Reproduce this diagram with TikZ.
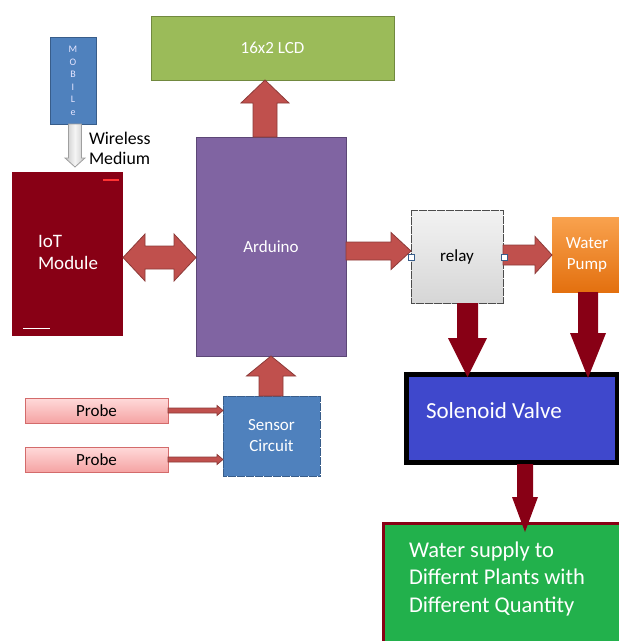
\documentclass[tikz,border=0pt]{standalone}
\usepackage{fontspec}
\setmainfont{Carlito}
\usetikzlibrary{calc}
\definecolor{lcdgreen}{HTML}{9BBB59}
\definecolor{lcdline}{HTML}{71893F}
\definecolor{ardpurple}{HTML}{8064A2}
\definecolor{ardline}{HTML}{5C4776}
\definecolor{mobblue}{HTML}{4F81BD}
\definecolor{mobline}{HTML}{385D8A}
\definecolor{iotred}{HTML}{880015}
\definecolor{arrred}{HTML}{C0504D}
\definecolor{arrline}{HTML}{8C3A38}
\definecolor{solblue}{HTML}{3F48CC}
\definecolor{plantgreen}{HTML}{22B14C}
\definecolor{pumptop}{HTML}{F9A24E}
\definecolor{pumpbot}{HTML}{E3700F}
\definecolor{probetop}{HTML}{FFDADA}
\definecolor{probebot}{HTML}{F5A3A3}
\definecolor{probeline}{HTML}{D36B6B}
\newcommand\fsA{\fontsize{17}{21}\selectfont}
\newcommand\fsWL{\fontsize{17.8}{21}\selectfont}
\newcommand\fsIoT{\fontsize{19}{22}\selectfont}
\newcommand\fsSol{\fontsize{23}{27}\selectfont}
\newcommand\fsW{\fontsize{22.5}{27.5}\selectfont}
\newcommand\fsMob{\fontsize{10}{12.5}\selectfont}
% block arrow: #1 from, #2 to, #3 shaft half width, #4 head half width, #5 head length, #6 style
\newcommand\blkarrow[6]{%
  \coordinate (bA) at ($(#2)!#5pt!(#1)$);
  \draw[#6] ($(#1)!#3pt!90:(#2)$) -- ($(bA)!#3pt!90:(#2)$) -- ($(bA)!#4pt!90:(#2)$)
    -- (#2) -- ($(bA)!#4pt!-90:(#2)$) -- ($(bA)!#3pt!-90:(#2)$) -- ($(#1)!#3pt!-90:(#2)$) -- cycle;
}
\newcommand\dblarrow[6]{%
  \coordinate (bA) at ($(#1)!#5pt!(#2)$);
  \coordinate (bB) at ($(#2)!#5pt!(#1)$);
  \draw[#6] (#1) -- ($(bA)!#4pt!90:(#2)$) -- ($(bA)!#3pt!90:(#2)$) -- ($(bB)!#3pt!90:(#2)$)
    -- ($(bB)!#4pt!90:(#2)$) -- (#2) -- ($(bB)!#4pt!-90:(#2)$) -- ($(bB)!#3pt!-90:(#2)$)
    -- ($(bA)!#3pt!-90:(#2)$) -- ($(bA)!#4pt!-90:(#2)$) -- cycle;
}
\begin{document}
\begin{tikzpicture}[x=1pt,y=-1pt,
  box/.style={rectangle, inner sep=0pt, outer sep=0pt, text=white, font=\fsA, align=center},
  redarrow/.style={fill=arrred, draw=arrline, line width=0.8pt, line join=miter},
  darkarrow/.style={fill=iotred, draw=none},
  grayarrow/.style={left color=gray!45, right color=gray!45, middle color=gray!8, draw=gray!75, line width=0.8pt},
  lbl/.style={inner sep=0pt, outer sep=0pt, anchor=base west}]
\useasboundingbox (0,0) rectangle (619,641);

% boxes
\node[box, fill=lcdgreen, draw=lcdline, minimum width=243pt, minimum height=64pt] (lcd) at (272.5,48) {16x2 LCD};
\node[box, fill=ardpurple, draw=ardline, line width=0.8pt, minimum width=150pt, minimum height=219pt] (ard) at (271,246.5) {Arduino};
\node[box, fill=mobblue, draw=mobline, minimum width=46pt, minimum height=87pt, font=\fsMob, text=white!90!blue] (mob) at (73,81) {M\\O\\B\\I\\L\\e};
\node[box, fill=iotred, minimum width=111pt, minimum height=164pt] (iot) at (67.5,254) {};
\node[lbl, text=white, font=\fsIoT] (iott1) at (38,247) {IoT};
\node[lbl, text=white, font=\fsIoT] (iott2) at (38,269) {Module};
\node[lbl, text=black, font=\fsWL] (wl1) at (89,144) {Wireless};
\node[lbl, text=black, font=\fsWL] (wl2) at (89,164.5) {Medium};
\node[box, top color=gray!10, bottom color=gray!32, draw=black!70, dash pattern=on 4pt off 0.5pt, text=black, minimum width=92pt, minimum height=93pt] (relay) at (457,256.5) {relay};
\node[box, top color=pumptop, bottom color=pumpbot, minimum width=70pt, minimum height=75pt] (pump) at (587,254.5) {Water\\Pump};
\node[box, fill=solblue, draw=black, line width=5pt, minimum width=211pt, minimum height=88pt] (sol) at (512,418.5) {};
\node[lbl, text=white, font=\fsSol] (soltxt) at (426,418) {Solenoid Valve};
\node[box, fill=plantgreen, draw=iotred, line width=3pt, minimum width=240pt, minimum height=126.5pt] (water) at (503.5,586.75) {};
\node[lbl, text=white, font=\fsW] (wt1) at (409,557) {Water supply to};
\node[lbl, text=white, font=\fsW] (wt2) at (409,584.5) {Differnt Plants with};
\node[lbl, text=white, font=\fsW] (wt3) at (409,612) {Different Quantity};
\node[box, top color=probetop, bottom color=probebot, draw=probeline, text=black, minimum width=143pt, minimum height=25pt] (p1) at (96.5,410.5) {Probe};
\node[box, top color=probetop, bottom color=probebot, draw=probeline, text=black, minimum width=143pt, minimum height=25pt] (p2) at (96.5,459.5) {Probe};
\node[box, fill=mobblue, draw=mobline, dash pattern=on 4pt off 0.5pt, minimum width=97pt, minimum height=80pt] (sens) at (271.5,436) {Sensor\\Circuit};

% small marks on IoT module
\draw[red!80!white, line width=1.5pt] ($(iot.north east)+(-20,8)$) coordinate (im1) -- ($(iot.north east)+(-4,8)$) coordinate (im2);
\draw[white, line width=1pt] ($(iot.south west)+(11,-8)$) coordinate (im3) -- ($(iot.south west)+(38,-8)$) coordinate (im4);

% connector end points
\coordinate (a1s) at ($(ard.north)+(-6,0)$);
\coordinate (a1e) at ($(lcd.south)+(-7.5,0)$);
\coordinate (d1) at ($(iot.east)+(0,3.5)$);
\coordinate (d2) at ($(ard.west)+(0,11)$);
\coordinate (a3s) at ($(ard.east)+(0,4.5)$);
\coordinate (a3e) at ($(relay.west)+(0,-5.5)$);
\coordinate (a4s) at ($(relay.east)+(0,-1.5)$);
\coordinate (a4e) at ($(pump.west)+(0,0.5)$);
\coordinate (a5s) at ($(relay.south)+(10.5,0)$);
\coordinate (a5e) at ($(sol.north)+(-44.5,2.5)$);
\coordinate (a6s) at ($(pump.south)+(1,0)$);
\coordinate (a6e) at ($(sol.north)+(76,3.5)$);
\coordinate (a7s) at ($(sol.south)+(13,1.5)$);
\coordinate (a7e) at ($(water.north)+(21.5,8.5)$);
\coordinate (a8s) at ($(sens.north)+(-0.5,0)$);
\coordinate (a8e) at (ard.south);
\coordinate (a9e) at ($(sens.west)+(0,-25.5)$);
\coordinate (a10e) at ($(sens.west)+(0,23.5)$);
\coordinate (a11s) at ($(mob.south)+(2,-0.5)$);
\coordinate (a11e) at ($(iot.north)+(7.5,-5)$);

% arrows
\blkarrow{a1s}{a1e}{12}{24}{23}{redarrow}
\dblarrow{d1}{d2}{11.5}{23.5}{22}{redarrow}
\blkarrow{a3s}{a3e}{9}{18.5}{20}{redarrow}
\blkarrow{a4s}{a4e}{10}{18.5}{17}{redarrow}
\blkarrow{a5s}{a5e}{10.5}{19.5}{39}{darkarrow}
\blkarrow{a6s}{a6e}{10}{18}{45}{darkarrow}
\blkarrow{a7s}{a7e}{8}{13}{35}{darkarrow}
\blkarrow{a8s}{a8e}{12}{24.5}{20}{redarrow}
\blkarrow{p1.east}{a9e}{2.5}{5}{6}{redarrow}
\blkarrow{p2.east}{a10e}{2.5}{5}{6}{redarrow}
\blkarrow{a11s}{a11e}{6.5}{10}{9}{grayarrow}

% relay handles
\node[draw=mobline, fill=white, minimum size=6pt, inner sep=0pt, line width=0.6pt] (h1) at ($(relay.west)+(0,1)$) {};
\node[draw=mobline, fill=white, minimum size=6pt, inner sep=0pt, line width=0.6pt] (h2) at ($(relay.east)+(1,1)$) {};
\end{tikzpicture}
\end{document}
